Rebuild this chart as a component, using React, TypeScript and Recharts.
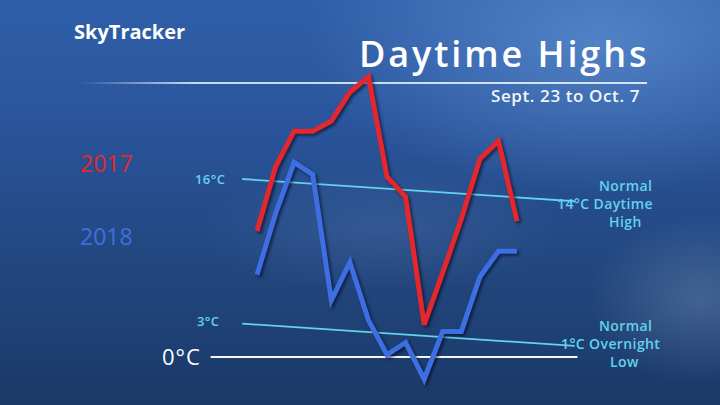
import { LineChart, Line, XAxis, YAxis, ReferenceLine } from "recharts";

// Sept. 23 .. Oct. 7 (15 days)
const days = [0, 1, 2, 3, 4, 5, 6, 7, 8, 9, 10, 11, 12, 13, 14];
const highs2017 = [11.3, 17.1, 20.3, 20.3, 21.2, 23.8, 25.2, 16.2, 14.4, 2.9, 7.6, 12.4, 17.8, 19.4, 12.2];
const highs2018 = [7.4, 12.9, 17.5, 16.4, 5.1, 8.5, 3.3, 0.2, 1.3, -2.0, 2.3, 2.3, 7.2, 9.5, 9.5];

// normals drawn as sloped guides (left value -> right value)
const normalHigh = [16, 14];
const normalLow = [3, 1];
const guideX = [-0.8, 17.1];

const data = days.map((d, i) => ({ day: d, y2017: highs2017[i], y2018: highs2018[i] }));

const RED = "#e4272c";
const BLUE = "#3d6fe2";
const CYAN = "#62d3ec";
const font = "'Open Sans', 'DejaVu Sans', sans-serif";

const txt = (style: any) => ({
  position: "absolute" as const,
  fontFamily: font,
  whiteSpace: "nowrap" as const,
  lineHeight: 1,
  ...style,
});

const note = { fontSize: 14, fontWeight: 600, color: CYAN, letterSpacing: 0.4 };

export default function App() {
  return (
    <div
      style={{
        position: "absolute",
        left: 0,
        top: 0,
        width: 720,
        height: 405,
        overflow: "hidden",
        background:
          "radial-gradient(ellipse 420px 220px at 600px 40px, rgba(110,160,225,0.55), rgba(110,160,225,0) 70%)," +
          "radial-gradient(ellipse 160px 120px at 700px 300px, rgba(170,190,220,0.25), rgba(170,190,220,0) 70%)," +
          "radial-gradient(ellipse 260px 90px at 380px 230px, rgba(120,150,200,0.18), rgba(120,150,200,0) 70%)," +
          "linear-gradient(180deg, #2f5fa9 0%, #2a559c 30%, #22477f 65%, #1b3968 100%)",
      }}
    >
      <style>{`.recharts-line-curve{filter:drop-shadow(2px 2px 1.5px rgba(0,0,20,0.55));}`}</style>

      <div style={txt({ left: 74, top: 22, fontSize: 20, fontWeight: 700, color: "#ffffff", letterSpacing: 0 })}>
        SkyTracker
      </div>
      <div
        style={{
          position: "absolute",
          left: 80,
          top: 82,
          width: 567,
          height: 1.5,
          background: "linear-gradient(90deg, rgba(255,255,255,0) 0%, rgba(230,240,255,0.85) 20%, rgba(230,240,255,0.9) 100%)",
        }}
      />
      <div style={txt({ left: 359, top: 36, fontSize: 36, fontWeight: 600, color: "#ffffff", letterSpacing: 2.9 })}>
        Daytime Highs
      </div>
      <div style={txt({ left: 491, top: 87, fontSize: 17, fontWeight: 600, color: "#f2f5fa", letterSpacing: 0.6 })}>
        Sept. 23 to Oct. 7
      </div>

      <div style={txt({ left: 80, top: 152, fontSize: 23, color: RED })}>2017</div>
      <div style={txt({ left: 80, top: 225, fontSize: 23, color: BLUE })}>2018</div>

      <div style={txt({ left: 195, top: 173, fontSize: 13, fontWeight: 600, color: CYAN, letterSpacing: 0.4 })}>16°C</div>
      <div style={txt({ left: 197, top: 315, fontSize: 13, fontWeight: 600, color: CYAN, letterSpacing: 0.4 })}>3°C</div>
      <div style={txt({ left: 162, top: 345, fontSize: 22, fontWeight: 500, color: "#ffffff", letterSpacing: 1 })}>0°C</div>

      <div style={txt({ left: 599, top: 179, ...note })}>Normal</div>
      <div style={txt({ left: 557, top: 197, ...note })}>14°C Daytime</div>
      <div style={txt({ left: 609, top: 215, ...note })}>High</div>

      <div style={txt({ left: 599, top: 319, ...note })}>Normal</div>
      <div style={txt({ left: 561, top: 337, ...note })}>1°C Overnight</div>
      <div style={txt({ left: 610, top: 355, ...note })}>Low</div>

      <div style={{ position: "absolute", left: 0, top: 0 }}>
        <LineChart
          width={720}
          height={405}
          data={data}
          margin={{ top: 45.5, right: 142.6, bottom: 3.5, left: 210.6 }}
        >
          <XAxis type="number" dataKey="day" domain={[-2.5, 17.25]} hide allowDataOverflow />
          <YAxis type="number" domain={[-4, 28]} hide allowDataOverflow />
          <ReferenceLine y={0} stroke="#f4f6fa" strokeWidth={2} ifOverflow="visible" />
          <ReferenceLine
            segment={[
              { x: guideX[0], y: normalHigh[0] },
              { x: guideX[1], y: normalHigh[1] },
            ]}
            stroke={CYAN}
            strokeWidth={1.8}
            ifOverflow="visible"
          />
          <ReferenceLine
            segment={[
              { x: guideX[0], y: normalLow[0] },
              { x: guideX[1], y: normalLow[1] },
            ]}
            stroke={CYAN}
            strokeWidth={1.8}
            ifOverflow="visible"
          />
          <Line
            type="linear"
            dataKey="y2017"
            stroke={RED}
            strokeWidth={5}
            dot={false}
            strokeLinejoin="miter"
            isAnimationActive={false}
          />
          <Line
            type="linear"
            dataKey="y2018"
            stroke={BLUE}
            strokeWidth={5}
            dot={false}
            strokeLinejoin="miter"
            isAnimationActive={false}
          />
        </LineChart>
      </div>
    </div>
  );
}
